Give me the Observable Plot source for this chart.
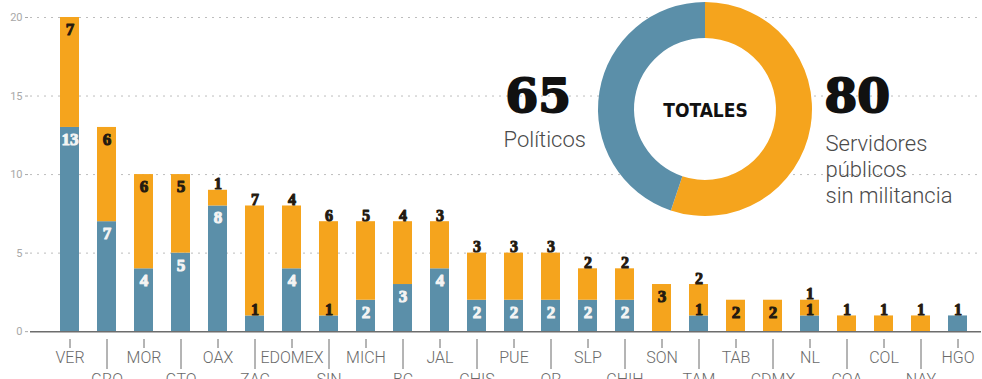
<!DOCTYPE html>
<html>
<head>
<meta charset="utf-8">
<script src="https://cdn.jsdelivr.net/npm/d3@7"></script>
<script src="https://cdn.jsdelivr.net/npm/@observablehq/plot@0.6"></script>
<style>
  html, body { margin: 0; padding: 0; background: #fff; }
  #chart svg { display: block; }
</style>
</head>
<body>
<div id="chart"></div>
<script>
// ---- data ----
const states = ["VER","GRO","MOR","GTO","OAX","ZAC","EDOMEX","SIN","MICH","BC","JAL","CHIS","PUE","QR","SLP","CHIH","SON","TAM","TAB","CDMX","NL","COA","COL","NAY","HGO"];
const politicos  = [13,7,4,5,8,1,4,1,2,3,4,2,2,2,2,2,0,1,0,0,1,0,0,0,1];
const servidores = [7,6,6,5,1,7,4,6,5,4,3,3,3,3,2,2,3,2,2,2,1,1,1,1,0];
const yTicks = [0,5,10,15,20];
const seriesNames = ["Políticos", "Servidores públicos sin militancia"];
const totalLabel = "TOTALES";

// ---- derived tables ----
const BLUE = "#5b8fa9", ORANGE = "#f5a41d", DARK = "#241a10";
const rows = [];
states.forEach((s, i) => {
  rows.push({state: s, type: seriesNames[0], value: politicos[i]});
  rows.push({state: s, type: seriesNames[1], value: servidores[i]});
});
const labels = [];
states.forEach((s, i) => {
  const b = politicos[i], o = servidores[i], t = b + o;
  if (b > 0) labels.push({state: s, y: b, text: String(b), inside: b >= 2, blue: true});
  if (o > 0) labels.push({state: s, y: t, text: String(o), inside: t >= 10 || (b === 0 && o >= 2), blue: false});
});
const totP = d3.sum(politicos), totS = d3.sum(servidores);
const evenStates = states.filter((d, i) => i % 2 === 0);
const oddStates = states.filter((d, i) => i % 2 === 1);

const W = 982, H = 379, ML = 47, MT = 17;
const numFont = "'Liberation Serif', 'DejaVu Serif', serif";
const bigFont = "'DejaVu Serif', serif";
const lightFont = "Roboto, 'Open Sans', sans-serif";

function donut(index, scales, values, dimensions) {
  const g = d3.create("svg:g").attr("transform", "translate(705,109)");
  const pie = d3.pie().sort(null).value(d => d.v);
  const arc = d3.arc().innerRadius(71).outerRadius(107);
  const arcs = pie([{v: totS, c: ORANGE}, {v: totP, c: BLUE}]);
  g.append("circle").attr("r", 71).attr("fill", "#fff");
  g.selectAll("path").data(arcs).join("path")
    .attr("d", arc).attr("fill", d => d.data.c);
  return g.node();
}

const chart = Plot.plot({
  width: W,
  height: H,
  marginLeft: ML,
  marginRight: 1,
  marginTop: MT,
  marginBottom: 40,
  x: {domain: states, paddingInner: 0.48, paddingOuter: 0.24},
  y: {domain: [-0.5, 20], range: [339, MT]},
  style: {fontFamily: lightFont, background: "#fff", overflow: "visible"},
  marks: [
    Plot.ruleY(yTicks.filter(d => d > 0), {stroke: "#bdbdbd", strokeDasharray: "2,5", strokeWidth: 1, insetLeft: -17}),
    Plot.barY(rows, {x: "state", y: "value", fill: "type", order: seriesNames}),
    Plot.ruleY([0], {stroke: "#6d6d6d", strokeWidth: 1.5, insetLeft: -17}),
    Plot.axisY(yTicks, {anchor: "left", tickSize: 3, tickPadding: 3, dx: -19, fontSize: 11, color: "#a8a8a8", label: null}),
    Plot.axisX(evenStates, {tickSize: 9, tickPadding: 3, fontSize: 16, fontWeight: 300, color: "#6a6a6a", label: null}),
    Plot.axisX(oddStates, {tickSize: 30, tickPadding: 4, fontSize: 16, fontWeight: 300, color: "#6a6a6a", label: null}),
    // inside labels
    Plot.text(labels.filter(d => d.inside), {x: "state", y: "y", text: "text", dy: 12, lineAnchor: "middle",
      fontFamily: numFont, fontWeight: "bold", fontSize: 17,
      fill: d => d.blue ? "#f4f4f4" : DARK, stroke: d => d.blue ? "#f4f4f4" : DARK, strokeWidth: 1}),
    // above labels
    Plot.text(labels.filter(d => !d.inside), {x: "state", y: "y", text: "text", dy: -1, lineAnchor: "bottom",
      fontFamily: numFont, fontWeight: "bold", fontSize: 16,
      fill: DARK, stroke: DARK, strokeWidth: 1}),
    donut,
    Plot.text([totalLabel], {frameAnchor: "top-left", dx: 705 - ML, dy: 110 - MT, textAnchor: "middle", lineAnchor: "middle",
      fontFamily: "'Liberation Sans Narrow', 'DejaVu Sans Condensed', Roboto, sans-serif", fontWeight: "bold", fontSize: 19, fill: "#111"}),
    Plot.text([String(totP)], {frameAnchor: "top-left", dx: 505 - ML, dy: 96 - MT, textAnchor: "start", lineAnchor: "middle",
      fontFamily: bigFont, fontWeight: "bold", fontSize: 47, fill: "#111", stroke: "#111", strokeWidth: 2}),
    Plot.text([String(totS)], {frameAnchor: "top-left", dx: 824 - ML, dy: 96 - MT, textAnchor: "start", lineAnchor: "middle",
      fontFamily: bigFont, fontWeight: "bold", fontSize: 47, fill: "#111", stroke: "#111", strokeWidth: 2}),
    Plot.text([seriesNames[0]], {frameAnchor: "top-left", dx: 503 - ML, dy: 139 - MT, textAnchor: "start", lineAnchor: "middle",
      fontFamily: lightFont, fontWeight: 300, fontSize: 22, fill: "#4a4a4a"}),
    Plot.text(["Servidores\npúblicos\nsin militancia"], {frameAnchor: "top-left", dx: 825 - ML, dy: 168 - MT, textAnchor: "start", lineAnchor: "middle",
      lineHeight: 1.2, fontFamily: lightFont, fontWeight: 300, fontSize: 22, fill: "#4a4a4a"})
  ],
  color: {domain: seriesNames, range: [BLUE, ORANGE]}
});
document.getElementById("chart").appendChild(chart);
</script>
</body>
</html>
